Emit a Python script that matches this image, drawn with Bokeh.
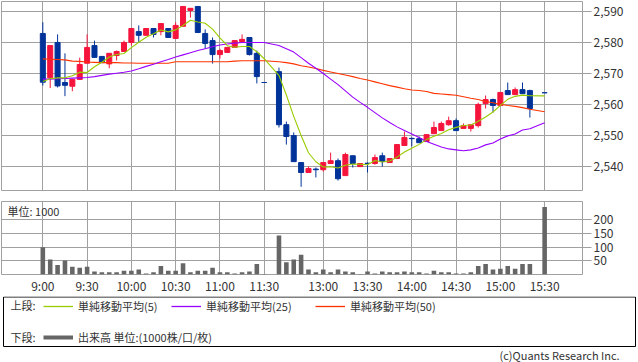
import numpy as np
import pandas as pd
from bokeh.plotting import figure
from bokeh.layouts import column
from bokeh.models import (Range1d, FixedTicker, NumeralTickFormatter, Label, Legend,
                          LegendItem, ColumnDataSource, BoxAnnotation)
from bokeh.embed import file_html
from bokeh.resources import INLINE

# ---------------- data (5-minute bars, slot index along the session axis) -------------
slots = list(range(0, 31)) + list(range(32, 67)) + [68]
opens = [2582.9, 2568.6, 2580.0, 2567.1, 2565.9, 2568.1, 2573.3, 2579.0, 2575.5, 2573.1,
         2575.8, 2577.1, 2580.0, 2583.5, 2582.3, 2584.5, 2583.5, 2584.5, 2581.3, 2585.2,
         2590.3, 2591.6, 2582.9, 2580.6, 2576.1, 2576.8, 2578.4, 2580.3, 2581.6, 2576.5,
         2567.1,
         2570.6, 2553.5, 2550.0, 2541.3, 2538.1, 2539.2, 2539.0, 2541.0, 2541.9, 2537.1,
         2543.5, 2540.0, 2541.1, 2541.0, 2543.5, 2541.3, 2542.6, 2546.8, 2549.1, 2549.0,
         2548.1, 2550.6, 2551.6, 2553.5, 2554.8, 2552.3, 2552.3, 2553.2, 2560.3, 2561.6,
         2559.7, 2564.5, 2563.2, 2564.8, 2564.5,
         2563.8]
highs = [2586.5, 2579.0, 2582.6, 2576.5, 2568.1, 2575.1, 2582.6, 2580.6, 2575.5, 2576.5,
         2577.4, 2580.6, 2584.5, 2585.5, 2584.5, 2584.5, 2586.1, 2584.5, 2586.5, 2591.6,
         2591.0, 2591.6, 2584.2, 2581.6, 2578.0, 2578.4, 2580.6, 2582.6, 2581.6, 2577.4,
         2567.1,
         2571.9, 2554.5, 2551.0, 2541.3, 2540.0, 2539.7, 2541.3, 2544.5, 2542.6, 2544.5,
         2543.5, 2541.0, 2541.3, 2543.9, 2544.5, 2542.6, 2547.1, 2551.3, 2549.4, 2549.7,
         2550.3, 2554.5, 2554.5, 2556.1, 2555.5, 2553.9, 2553.5, 2560.6, 2562.9, 2561.9,
         2563.9, 2567.1, 2565.5, 2567.1, 2564.8,
         2563.8]
lows = [2566.1, 2565.3, 2565.5, 2562.7, 2564.3, 2568.1, 2573.3, 2575.0, 2573.5, 2571.7,
        2574.2, 2577.1, 2579.0, 2580.0, 2582.3, 2581.6, 2582.3, 2581.6, 2581.3, 2585.2,
        2588.0, 2583.2, 2578.0, 2573.2, 2574.8, 2576.8, 2578.4, 2580.3, 2575.8, 2566.8,
        2567.1,
        2552.6, 2547.1, 2541.6, 2533.5, 2538.1, 2536.5, 2538.4, 2541.0, 2535.5, 2537.1,
        2539.7, 2540.0, 2538.1, 2540.6, 2540.0, 2541.3, 2542.6, 2546.8, 2546.5, 2547.7,
        2548.1, 2550.6, 2551.6, 2553.2, 2551.6, 2552.3, 2551.3, 2552.6, 2558.7, 2557.4,
        2559.7, 2563.2, 2563.2, 2563.5, 2555.8,
        2563.8]
closes = [2567.2, 2579.0, 2566.0, 2566.2, 2568.1, 2572.9, 2578.4, 2575.2, 2573.5, 2576.5,
          2577.1, 2580.0, 2584.5, 2582.3, 2584.5, 2582.6, 2586.1, 2581.6, 2585.5, 2591.6,
          2591.0, 2583.2, 2579.7, 2576.1, 2577.4, 2578.4, 2580.6, 2581.0, 2576.1, 2569.0,
          2567.1,
          2553.5, 2549.7, 2541.6, 2538.1, 2539.4, 2539.0, 2541.3, 2541.9, 2536.1, 2543.9,
          2541.0, 2541.0, 2541.0, 2542.9, 2541.6, 2542.6, 2547.1, 2549.4, 2549.0, 2547.7,
          2550.3, 2552.6, 2553.9, 2554.8, 2551.6, 2553.2, 2553.5, 2560.0, 2561.6, 2559.7,
          2563.9, 2563.2, 2564.8, 2563.5, 2558.7,
          2563.8]
# closes of the last four bars of the previous session (for the 5-bar average)
prev_closes = [2574.5, 2564.5, 2566.2, 2564.6]
volumes = [100, 55, 35, 51, 28, 25, 28, 11, 8, 8,
           8, 14, 14, 18, 4, 8, 31, 14, 14, 41,
           8, 14, 14, 25, 8, 8, 4, 8, 11, 38,
           2,
           143, 45, 55, 72, 18, 8, 18, 8, 18, 11,
           8, 2, 11, 4, 11, 8, 8, 11, 8, 8,
           4, 14, 8, 8, 4, 4, 8, 31, 38, 18,
           21, 31, 21, 38, 38,
           247]
ma25 = [2568.2, 2568.2, 2568.3, 2568.4, 2568.5, 2568.6, 2568.7, 2569.0, 2569.4, 2569.8,
        2570.1, 2570.4, 2570.8, 2571.5, 2572.3, 2573.0, 2573.8, 2574.5, 2575.3, 2576.0,
        2576.7, 2577.4, 2578.0, 2578.6, 2579.2, 2579.5, 2579.8, 2580.0, 2580.0, 2580.0,
        2580.0,
        2579.0, 2578.0, 2576.9, 2575.1, 2573.3, 2571.7, 2570.0, 2568.2, 2566.4, 2564.4,
        2562.4, 2560.7, 2559.1, 2557.4, 2555.7, 2554.2, 2552.8, 2551.6, 2550.5, 2549.4,
        2548.1, 2547.2, 2546.3, 2545.7, 2545.4, 2545.1, 2545.4, 2546.0, 2547.0, 2547.6,
        2548.9, 2549.9, 2550.5, 2551.8, 2552.2,
        2554.1]
ma50 = [2574.7, 2574.6, 2574.5, 2574.4, 2574.0, 2573.9, 2573.7, 2573.6, 2573.5, 2573.5,
        2573.5, 2573.4, 2573.4, 2573.3, 2573.3, 2573.3, 2573.3, 2573.3, 2573.8, 2573.8,
        2573.8, 2573.8, 2573.8, 2573.8, 2573.8, 2573.8, 2574.0, 2574.1, 2574.1, 2574.1,
        2574.1,
        2573.8, 2573.5, 2573.1, 2572.5, 2572.1, 2571.6, 2571.0, 2570.5, 2570.0, 2569.5,
        2569.0, 2568.4, 2567.9, 2567.3, 2566.7, 2566.1, 2565.6, 2565.1, 2564.7, 2564.5,
        2564.2, 2563.6, 2563.4, 2563.2, 2563.0, 2562.5, 2562.0, 2561.6, 2561.0, 2560.6,
        2560.1, 2559.7, 2559.4, 2559.0, 2558.5,
        2557.7]

tick_slots = [0, 6, 12, 18, 24, 30, 38, 44, 50, 56, 62, 68]
tick_labels = ["9:00", "9:30", "10:00", "10:30", "11:00", "11:30",
               "13:00", "13:30", "14:00", "14:30", "15:00", "15:30"]
price_ticks = [2540, 2550, 2560, 2570, 2580, 2590]
volume_ticks = [50, 100, 150, 200]

legend_upper = ["単純移動平均(5)", "単純移動平均(25)", "単純移動平均(50)"]
legend_lower = "出来高 単位:(1000株/口/枚)"
copyright_text = "(c)Quants Research Inc."

# ---------------- styling ----------------
FONT = "Noto Sans CJK JP"
TXT = "#333333"
GRID = "#a0a0a0"
UP = "#f5143c"
DOWN = "#003399"
C5, C25, C50 = "#99cc00", "#9900ff", "#ff3300"
VOLC = "#666666"

o = np.array(opens); h = np.array(highs); l = np.array(lows); c = np.array(closes)
x = np.array(slots)
ma5 = pd.Series(prev_closes + closes).rolling(5).mean().to_numpy()[len(prev_closes):]
up = c > o
colors = np.where(up, UP, DOWN)

src = ColumnDataSource(dict(x=x, o=o, h=h, l=l, c=c, top=np.maximum(o, c),
                            bot=np.minimum(o, c), col=colors, vol=volumes,
                            ma5=ma5, ma25=ma25, ma50=ma50))

xr = Range1d(-5.6, 73.13)

# ---------------- upper panel ----------------
p1 = figure(width=638, height=196, x_range=xr, y_range=Range1d(2532.3, 2593.2),
            output_backend="svg", toolbar_location=None, y_axis_location="right",
            min_border_left=1, min_border_right=56, min_border_top=1, min_border_bottom=6)
p1.xaxis.visible = False
p1.outline_line_color = GRID
p1.xgrid.ticker = FixedTicker(ticks=tick_slots)
p1.ygrid.ticker = FixedTicker(ticks=price_ticks)
p1.grid.grid_line_color = GRID
ya = p1.yaxis[0]
ya.ticker = FixedTicker(ticks=price_ticks)
ya.formatter = NumeralTickFormatter(format="0,0")
ya.major_tick_out = 9
ya.major_tick_in = 0
ya.minor_tick_line_color = None
ya.axis_line_color = None
ya.major_tick_line_color = GRID
ya.major_label_standoff = 2
ya.major_label_text_font = FONT
ya.major_label_text_font_size = "12px"
ya.major_label_text_color = TXT

p1.segment(x0="x", y0="h", x1="x", y1="l", color="col", line_width=1, source=src)
p1.vbar(x="x", width=0.68, top="top", bottom="bot", fill_color="col", line_color="col",
        line_width=1, source=src)
p1.line("x", "ma50", color=C50, line_width=1.1, source=src)
p1.line("x", "ma25", color=C25, line_width=1.1, source=src)
p1.line("x", "ma5", color=C5, line_width=1.1, source=src)

# ---------------- volume panel ----------------
vol_top = 267
p2 = figure(width=638, height=100, x_range=xr, y_range=Range1d(0, vol_top),
            output_backend="svg", toolbar_location=None, y_axis_location="right",
            min_border_left=1, min_border_right=56, min_border_top=5, min_border_bottom=16)
p2.outline_line_color = GRID
p2.xgrid.ticker = FixedTicker(ticks=tick_slots)
p2.ygrid.ticker = FixedTicker(ticks=volume_ticks)
p2.grid.grid_line_color = GRID
xa = p2.xaxis[0]
xa.ticker = FixedTicker(ticks=tick_slots)
xa.major_label_overrides = {s: t for s, t in zip(tick_slots, tick_labels)}
xa.major_tick_out = 0
xa.major_tick_in = 0
xa.minor_tick_line_color = None
xa.axis_line_color = None
xa.major_label_standoff = 2
xa.major_label_text_font = FONT
xa.major_label_text_font_size = "12px"
xa.major_label_text_color = TXT
va = p2.yaxis[0]
va.ticker = FixedTicker(ticks=volume_ticks)
va.major_tick_out = 9
va.major_tick_in = 0
va.minor_tick_line_color = None
va.axis_line_color = None
va.major_tick_line_color = GRID
va.major_label_standoff = 2
va.major_label_text_font = FONT
va.major_label_text_font_size = "12px"
va.major_label_text_color = TXT

p2.vbar(x="x", width=0.62, top="vol", bottom=0, fill_color=VOLC, line_color=None, source=src)
px_per_slot = 581 / (xr.end - xr.start)
p2.add_layout(Label(x=xr.start + 6 / px_per_slot, y=vol_top - 2 * vol_top / 79,
                    text="単位: 1000", text_font=FONT, text_font_size="11px",
                    text_color=TXT, text_baseline="top", text_align="left"))

# ---------------- legend panel (frame coordinates = pixels) ----------------
p3 = figure(width=638, height=66, x_range=Range1d(0, 638), y_range=Range1d(0, 66),
            output_backend="svg", toolbar_location=None,
            x_axis_location=None, y_axis_location=None,
            min_border_left=0, min_border_right=0, min_border_top=0, min_border_bottom=0)
p3.grid.visible = False
p3.outline_line_color = None
p3.add_layout(BoxAnnotation(left=3, right=635, bottom=16, top=65.5, fill_alpha=0,
                            line_color="black", line_width=1, line_alpha=1))
# legend-only renderers (a single NaN point: nothing is drawn in the frame)
r5 = p3.line(x=[np.nan], y=[np.nan], color=C5, line_width=1.3)
r25 = p3.line(x=[np.nan], y=[np.nan], color=C25, line_width=1.3)
r50 = p3.line(x=[np.nan], y=[np.nan], color=C50, line_width=1.3)
rv = p3.line(x=[np.nan], y=[np.nan], color=VOLC, line_width=4)

def mk_legend(label, rend, loc):
    lg = Legend(items=[LegendItem(label=label, renderers=[rend])], location=loc,
                orientation="horizontal", glyph_width=30, glyph_height=12,
                label_height=12, label_standoff=5, padding=0, margin=0, spacing=0,
                border_line_color=None, background_fill_alpha=0,
                label_text_font=FONT, label_text_font_size="11px",
                label_text_color=TXT)
    p3.add_layout(lg)

mk_legend(legend_upper[0], r5, (43, 48))
mk_legend(legend_upper[1], r25, (171, 48))
mk_legend(legend_upper[2], r50, (315, 48))
mk_legend(legend_lower, rv, (43, 17))
p3.add_layout(Label(x=10, y=58, text="上段:", text_font=FONT, text_font_size="11px",
                    text_color=TXT, text_baseline="middle"))
p3.add_layout(Label(x=10, y=26, text="下段:", text_font=FONT, text_font_size="11px",
                    text_color=TXT, text_baseline="middle"))
p3.add_layout(Label(x=499, y=8, text=copyright_text, text_font=FONT,
                    text_font_size="11px", text_color=TXT, text_baseline="middle",
                    text_align="left"))

charts = column(p1, p2, spacing=0)
# two independent roots so the legend panel keeps its own full-width frame
open("out.html", "w").write(file_html([charts, p3], INLINE))
